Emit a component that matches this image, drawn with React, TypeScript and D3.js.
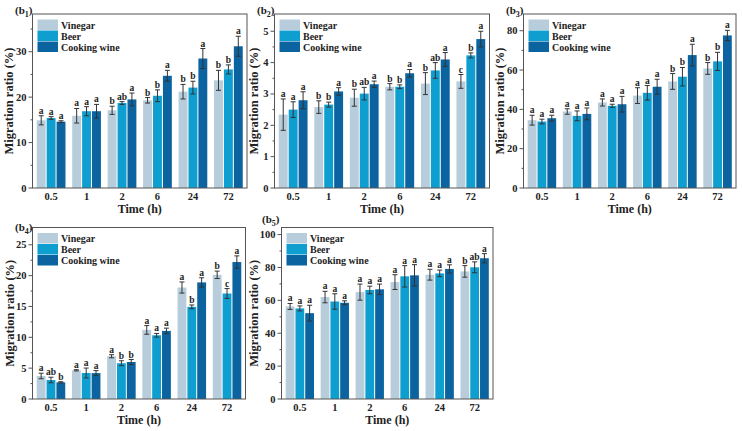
import React from "react";
import * as d3 from "d3";

const categories = ["0.5", "1", "2", "6", "24", "72"];
const seriesNames = ["Vinegar", "Beer", "Cooking wine"];
const seriesColors = ["#b7cddb", "#0f9ed0", "#0b63a0"];

// b1
const b1Mean = [
  [14.9, 15.9, 17.1, 19.3, 21.2, 23.7],
  [15.4, 16.9, 18.7, 20.3, 22.1, 26.1],
  [14.6, 16.9, 19.5, 24.7, 28.5, 31.2],
];
const b1Err = [
  [1.0, 1.6, 0.9, 0.6, 1.6, 2.2],
  [0.3, 1.0, 0.3, 1.3, 1.4, 1.0],
  [0.2, 1.5, 1.4, 1.2, 2.2, 2.2],
];
const b1Sig = [
  ["a", "a", "b", "b", "b", "b"],
  ["a", "a", "ab", "b", "b", "b"],
  ["a", "a", "a", "a", "a", "a"],
];

// b2
const b2Mean = [
  [2.34, 2.58, 2.88, 3.23, 3.33, 3.4],
  [2.5, 2.66, 3.01, 3.23, 3.75, 4.23],
  [2.8, 3.08, 3.31, 3.66, 4.1, 4.75],
];
const b2Err = [
  [0.5, 0.2, 0.27, 0.1, 0.35, 0.22],
  [0.25, 0.08, 0.2, 0.06, 0.25, 0.08],
  [0.27, 0.12, 0.1, 0.12, 0.22, 0.25],
];
const b2Sig = [
  ["a", "b", "b", "b", "b", "c"],
  ["a", "b", "ab", "b", "ab", "b"],
  ["a", "a", "a", "a", "a", "a"],
];

// b3
const b3Mean = [
  [34.5, 38.9, 43.5, 47.0, 54.2, 60.8],
  [33.8, 36.7, 41.8, 48.4, 56.6, 64.4],
  [35.5, 37.7, 42.6, 51.5, 67.6, 77.6],
];
const b3Err = [
  [2.5, 1.4, 1.8, 4.0, 4.0, 3.0],
  [1.2, 2.5, 0.8, 3.7, 4.7, 4.6],
  [1.5, 3.0, 4.0, 3.8, 5.5, 2.6],
];
const b3Sig = [
  ["a", "a", "a", "a", "b", "b"],
  ["a", "a", "a", "a", "b", "b"],
  ["a", "a", "a", "a", "a", "a"],
];

// b4
const b4Mean = [
  [3.73, 4.65, 6.93, 11.2, 18.07, 20.13],
  [3.08, 4.22, 5.8, 10.33, 14.94, 17.1],
  [2.7, 4.2, 6.0, 11.04, 18.9, 22.2],
];
const b4Err = [
  [0.45, 0.1, 0.25, 0.7, 0.9, 0.6],
  [0.45, 0.8, 0.4, 0.3, 0.3, 0.8],
  [0.1, 0.4, 0.4, 0.45, 0.75, 1.0],
];
const b4Sig = [
  ["a", "a", "a", "a", "a", "b"],
  ["ab", "a", "b", "a", "b", "c"],
  ["b", "a", "b", "a", "a", "a"],
];

// b5
const b5Mean = [
  [56.3, 62.0, 65.0, 71.1, 75.6, 77.6],
  [55.1, 59.3, 66.3, 74.6, 76.4, 80.1],
  [52.2, 58.5, 66.7, 75.2, 79.1, 85.6],
];
const b5Err = [
  [1.8, 3.5, 4.9, 4.5, 3.3, 3.5],
  [1.5, 4.7, 2.3, 6.5, 2.0, 3.3],
  [4.8, 1.2, 3.2, 6.5, 2.5, 2.8],
];
const b5Sig = [
  ["a", "a", "a", "a", "a", "b"],
  ["a", "a", "a", "a", "a", "ab"],
  ["a", "a", "a", "a", "a", "a"],
];

const yMajorTicks1 = [0, 10, 20, 30];
const yMajorTicks2 = [0, 1, 2, 3, 4, 5];
const yMajorTicks3 = [0, 20, 40, 60, 80];
const yMajorTicks4 = [0, 5, 10, 15, 20, 25];
const yMajorTicks5 = [0, 20, 40, 60, 80, 100];

const FONT = "'Liberation Serif', 'Times New Roman', serif";

type PanelDef = {
  id: string;
  x0: number; x1: number; y0: number; y1: number;
  yMax: number; ticks: number[]; minorStep: number;
  titleX: number; labelX: number; labelY: number;
  mean: number[][]; err: number[][]; sig: string[][];
};

const panels: PanelDef[] = [
  { id: "1", x0: 32.5, x1: 247, y0: 14, y1: 188, yMax: 38.3, ticks: yMajorTicks1, minorStep: 5, titleX: 13, labelX: 15, labelY: 14, mean: b1Mean, err: b1Err, sig: b1Sig },
  { id: "2", x0: 274.5, x1: 489.5, y0: 14, y1: 188, yMax: 5.55, ticks: yMajorTicks2, minorStep: 0.5, titleX: 258, labelX: 257, labelY: 14, mean: b2Mean, err: b2Err, sig: b2Sig },
  { id: "3", x0: 523.5, x1: 736, y0: 14, y1: 188, yMax: 88.5, ticks: yMajorTicks3, minorStep: 10, titleX: 504, labelX: 506, labelY: 14, mean: b3Mean, err: b3Err, sig: b3Sig },
  { id: "4", x0: 32.5, x1: 245.5, y0: 227.5, y1: 399, yMax: 27.8, ticks: yMajorTicks4, minorStep: 2.5, titleX: 14, labelX: 15, labelY: 231, mean: b4Mean, err: b4Err, sig: b4Sig },
  { id: "5", x0: 281.5, x1: 493, y0: 227.5, y1: 399, yMax: 104.3, ticks: yMajorTicks5, minorStep: 10, titleX: 258, labelX: 262, labelY: 223, mean: b5Mean, err: b5Err, sig: b5Sig },
];

function Panel({ p }: { p: PanelDef }) {
  const x = d3.scaleBand<string>().domain(categories).range([p.x0, p.x1]).paddingInner(0.19).paddingOuter(0.12);
  const y = d3.scaleLinear().domain([0, p.yMax]).range([p.y1, p.y0]);
  const gap = 1;
  const bw = (x.bandwidth() - 2 * gap) / 3;
  const minors = d3.range(0, p.yMax + 1e-9, p.minorStep).filter((v) => !p.ticks.some((t) => Math.abs(t - v) < 1e-9));
  const frame = "#555";
  return (
    <g>
      {p.mean.map((vals, s) =>
        vals.map((v, i) => {
          const bx = (x(categories[i]) as number) + s * (bw + gap);
          const cx = bx + bw / 2;
          const e = p.err[s][i];
          return (
            <g key={`${s}-${i}`}>
              <rect x={bx} y={y(v)} width={bw} height={y(0) - y(v)} fill={seriesColors[s]} />
              <line x1={cx} x2={cx} y1={y(v + e)} y2={y(v - e)} stroke="#333" strokeWidth={1} />
              <line x1={cx - 2.5} x2={cx + 2.5} y1={y(v + e)} y2={y(v + e)} stroke="#333" strokeWidth={1} />
              <line x1={cx - 2.5} x2={cx + 2.5} y1={y(v - e)} y2={y(v - e)} stroke="#333" strokeWidth={1} />
              <text x={cx} y={y(v + e) - 2} textAnchor="middle" fontSize={9.5} fontWeight="bold" fontFamily={FONT} fill="#222">
                {p.sig[s][i]}
              </text>
            </g>
          );
        })
      )}
      <rect x={p.x0} y={p.y0} width={p.x1 - p.x0} height={p.y1 - p.y0} fill="none" stroke={frame} strokeWidth={1} />
      {p.ticks.map((t) => (
        <g key={`t${t}`}>
          <line x1={p.x0 - 4} x2={p.x0} y1={y(t)} y2={y(t)} stroke={frame} />
          <text x={p.x0 - 6} y={y(t) + 3.5} textAnchor="end" fontSize={10.5} fontWeight="bold" fontFamily={FONT} fill="#222">
            {t}
          </text>
        </g>
      ))}
      {minors.map((t) => (
        <line key={`m${t}`} x1={p.x0 - 2} x2={p.x0} y1={y(t)} y2={y(t)} stroke={frame} />
      ))}
      {categories.map((c) => (
        <text key={`c${c}`} x={(x(c) as number) + x.bandwidth() / 2} y={p.y1 + 12} textAnchor="middle" fontSize={10.5} fontWeight="bold" fontFamily={FONT} fill="#222">
          {c}
        </text>
      ))}
      <text x={(p.x0 + p.x1) / 2} y={p.y1 + 24.5} textAnchor="middle" fontSize={12} fontWeight="bold" fontFamily={FONT} fill="#222">
        Time (h)
      </text>
      <text transform={`translate(${p.titleX},${(p.y0 + p.y1) / 2}) rotate(-90)`} textAnchor="middle" fontSize={12.5} fontWeight="bold" fontFamily={FONT} fill="#222">
        Migration ratio (%)
      </text>
      <text x={p.labelX} y={p.labelY} fontSize={11} fontWeight="bold" fontFamily={FONT} fill="#222">
        (b<tspan fontSize={8} dy={2.5}>{p.id}</tspan><tspan dy={-2.5}>)</tspan>
      </text>
      {seriesNames.map((n, s) => (
        <g key={n}>
          <rect x={p.x0 + 5} y={p.y0 + 5.5 + s * 11} width={20.5} height={10.5} fill={seriesColors[s]} />
          <text x={p.x0 + 28.5} y={p.y0 + 14.5 + s * 11} fontSize={10} fontWeight="bold" fontFamily={FONT} fill="#222">
            {n}
          </text>
        </g>
      ))}
    </g>
  );
}

export default function App() {
  return (
    <svg width={742} height={431} style={{ position: "absolute", left: 0, top: 0, background: "#fff" }}>
      {panels.map((p) => (
        <Panel key={p.id} p={p} />
      ))}
    </svg>
  );
}
